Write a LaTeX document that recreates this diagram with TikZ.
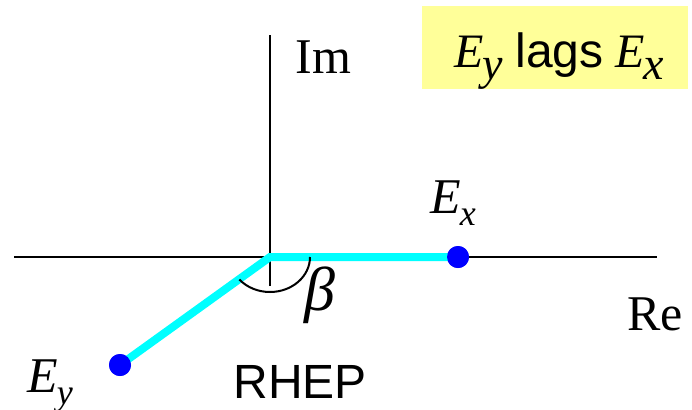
\documentclass[tikz,border=0pt]{standalone}
\usepackage{fontspec}
\setmainfont{Liberation Serif}
\newfontfamily\arial{Liberation Sans}
\usetikzlibrary{positioning}
\definecolor{notebg}{HTML}{FFFF99}
\definecolor{vecline}{HTML}{00FFFF}
\definecolor{dotblue}{HTML}{0000FF}
% E with a lowered subscript: #1 letter, #2 size, #3 drop
\newcommand{\Ecomp}[3]{\textit{E}\kern-0.5pt\raisebox{-#3}{\fontsize{#2}{#2}\selectfont\textit{#1}}}

\begin{document}
\begin{tikzpicture}[x=0.5pt, y=-0.5pt,
    axis/.style={line width=1pt, black},
    vec/.style={line width=4pt, vecline},
    tipdot/.style={circle, fill=dotblue, inner sep=0pt, minimum size=11pt},
    lbl/.style={anchor=base west, inner sep=0pt, font=\fontsize{25}{25}\selectfont},
    note/.style={fill=notebg, anchor=base west, minimum width=133pt, inner sep=0pt,
                 text height=30.5pt, text depth=11pt, font=\fontsize{24}{24}\selectfont}]
    \useasboundingbox (0,0) rectangle (692,409);

    % Axes
    \coordinate (O) at (270,257);
    \coordinate (reL) at (14,257);
    \coordinate (reR) at (657,257);
    \coordinate (imT) at (270,35);
    \coordinate (imB) at (270,286);
    \draw[axis] (reL) -- (reR);
    \draw[axis] (imB) -- (imT);
    \node[lbl] (im) at (295,73) {Im};
    \node[lbl] (re) at (627,330) {Re};

    % Field components
    \node[tipdot] (Ex) at (458,257) {};
    \node[tipdot] (Ey) at (120,365) {};
    \draw[vec] (Ex.center) -- (O) -- (Ey.center);
    \node[tipdot] at (Ex) {};
    \node[tipdot] at (Ey) {};
    \node[lbl] (exlbl) at (430,213) {\Ecomp{x}{18}{6pt}};
    \node[lbl] (eylbl) at (27,392) {\Ecomp{y}{18}{6pt}};

    % Phase angle
    \draw[axis] (O) ++(20pt,0) arc[start angle=0, end angle=-140, x radius=20pt, y radius=17.5pt];
    \node[lbl, font=\fontsize{31}{31}\selectfont] (beta) at (304,310) {\textit{β}};

    % Labels
    \node[lbl, font=\arial\fontsize{24}{24}\selectfont] (rhep) at (233,398) {RHEP};
    \node[note] (lag) at (422,67) {\hspace{4pt}\Ecomp{y}{23}{6pt}\ {\arial lags} \Ecomp{x}{23}{6pt}};
\end{tikzpicture}
\end{document}
